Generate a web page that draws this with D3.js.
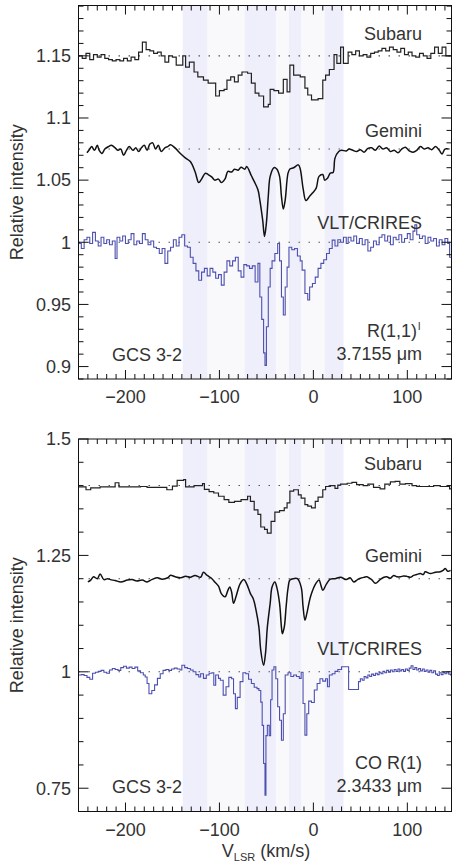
<!DOCTYPE html>
<html><head><meta charset="utf-8">
<script src="https://cdn.jsdelivr.net/npm/d3@7"></script>
<style>
body{margin:0;background:#fff}
svg{display:block}
text{font-family:"Liberation Sans",Arial,Helvetica,sans-serif;fill:#333}
</style>
</head><body>
<svg id="chart" width="454" height="865"></svg>
<script>
// ---------- data ----------
const xDomain = [-250, 147];
const xMajorTicks = [-200, -100, 0, 100];
const xTickLabels = ["\u2212200", "\u2212100", "0", "100"];
const bandWide = [[-139, 32]];
const bandsDark = [[-139, -113], [-73, -40], [-26, -13], [12, 32]];

const topYDomain = [0.89, 1.1905];
const topYMajor = [0.9, 0.95, 1, 1.05, 1.1, 1.15];
const topYLabels = ["0.9", "0.95", "1", "1.05", "1.1", "1.15"];
const topContinua = [1.15, 1.075, 1.0];

const botYDomain = [0.7, 1.5];
const botYMajor = [0.75, 1, 1.25, 1.5];
const botYLabels = ["0.75", "1", "1.25", "1.5"];
const botContinua = [1.4, 1.2, 1.0];

// H3+ R(1,1)l  -- Subaru (binned)
const subaruTop = [[-250,1.150],[-246,1.148],[-242,1.152],[-238,1.147],[-234,1.151],[-230,1.149],[-226,1.151],[-222,1.148],[-218,1.147],[-214,1.146],[-210,1.147],[-206,1.146],[-202,1.148],[-198,1.146],[-194,1.149],[-190,1.147],[-186,1.153],[-182,1.161],[-178,1.155],[-174,1.154],[-170,1.152],[-166,1.153],[-162,1.150],[-158,1.145],[-154,1.150],[-150,1.149],[-146,1.1425],[-139,1.150],[-136,1.141],[-132,1.145],[-127,1.137],[-123,1.133],[-117,1.1305],[-112,1.128],[-104,1.1177],[-100,1.122],[-95,1.123],[-92,1.1305],[-88,1.133],[-84,1.129],[-80,1.1345],[-76,1.137],[-70,1.136],[-66,1.128],[-62,1.120],[-58,1.1177],[-53,1.109],[-48,1.111],[-46,1.123],[-42,1.122],[-37,1.120],[-32,1.131],[-28,1.121],[-25,1.1425],[-21,1.1345],[-14,1.133],[-9,1.124],[-6,1.1185],[-2,1.1145],[5,1.1155],[10,1.1305],[13,1.1345],[17,1.139],[22,1.151],[25,1.144],[29,1.157],[32,1.144],[37,1.153],[41,1.151],[45,1.154],[49,1.150],[53,1.151],[57,1.149],[61,1.152],[65,1.153],[69,1.154],[73,1.156],[77,1.154],[81,1.157],[85,1.155],[89,1.153],[93,1.156],[97,1.151],[101,1.153],[105,1.150],[109,1.149],[113,1.152],[117,1.150],[121,1.148],[125,1.152],[129,1.157],[133,1.152],[137,1.157],[141,1.150],[147,1.150]];

// Gemini
const geminiTop = [[-241,1.072],[-238,1.075],[-236,1.077],[-233,1.074],[-230,1.078],[-228,1.074],[-225,1.0715],[-222,1.075],[-218,1.077],[-215,1.078],[-211,1.076],[-208,1.074],[-205,1.075],[-202,1.070],[-199,1.074],[-196,1.077],[-192,1.074],[-189,1.076],[-186,1.073],[-183,1.076],[-180,1.078],[-177,1.074],[-174,1.079],[-171,1.080],[-168,1.075],[-165,1.078],[-162,1.073],[-158,1.076],[-155,1.077],[-152,1.0785],[-147,1.0757],[-141,1.071],[-136,1.0677],[-131,1.065],[-126,1.057],[-122,1.048],[-119,1.0508],[-115,1.0556],[-112,1.0545],[-108,1.0524],[-105,1.050],[-101,1.0508],[-98,1.048],[-94,1.051],[-91,1.057],[-87,1.0565],[-84,1.0588],[-80,1.058],[-77,1.0604],[-73,1.0588],[-71,1.061],[-66,1.0535],[-63,1.049],[-59,1.0422],[-57,1.034],[-54,1.018],[-52,1.0047],[-50,1.0157],[-48,1.037],[-46,1.053],[-42,1.060],[-39,1.059],[-36,1.053],[-34,1.037],[-32,1.0267],[-30,1.034],[-27,1.0556],[-25,1.059],[-21,1.060],[-16,1.0623],[-14,1.059],[-11,1.0436],[-8,1.0336],[-4,1.037],[-1,1.0396],[3,1.0436],[6,1.053],[10,1.0545],[12,1.050],[15,1.0515],[18,1.0556],[21,1.0562],[23,1.0677],[27,1.073],[30,1.074],[35,1.0735],[38,1.075],[42,1.074],[46,1.073],[50,1.0745],[54,1.0725],[58,1.0755],[62,1.076],[66,1.074],[70,1.0775],[74,1.075],[78,1.076],[82,1.073],[86,1.074],[90,1.072],[94,1.075],[98,1.0765],[102,1.0735],[106,1.0725],[110,1.074],[114,1.077],[118,1.075],[122,1.076],[126,1.0745],[130,1.077],[134,1.074],[137,1.071],[140,1.075],[144,1.075]];

// VLT/CRIRES
const crirestop = [[-250,0.999],[-247,0.995],[-244,1.002],[-241,1.004],[-238,0.999],[-235,1.008],[-232,1.001],[-229,0.997],[-226,1.004],[-223,0.999],[-220,1.002],[-217,0.998],[-214,1.001],[-211,0.987],[-209,1.004],[-206,1.001],[-203,1.005],[-200,0.999],[-197,1.002],[-194,1.007],[-191,0.998],[-188,1.001],[-185,0.999],[-182,1.007],[-179,1.002],[-176,0.998],[-173,1.001],[-170,0.996],[-167,0.995],[-164,0.991],[-161,0.995],[-158,0.983],[-155,0.993],[-152,0.996],[-149,1.002],[-146,0.997],[-143,1.004],[-140,1.006],[-137,0.997],[-134,0.996],[-131,0.988],[-128,0.983],[-125,0.977],[-122,0.9695],[-119,0.976],[-116,0.979],[-113,0.973],[-110,0.979],[-107,0.976],[-104,0.971],[-101,0.974],[-98,0.9655],[-95,0.976],[-92,0.985],[-89,0.981],[-86,0.985],[-83,0.988],[-80,0.977],[-77,0.972],[-74,0.982],[-71,0.981],[-68,0.979],[-65,0.981],[-62,0.968],[-59,0.983],[-57,0.956],[-55,0.938],[-53,0.911],[-51.5,0.901],[-50,0.932],[-48,0.964],[-46,0.979],[-44,0.985],[-41,0.991],[-38,0.999],[-36,0.985],[-34,0.956],[-32,0.9415],[-30,0.964],[-28,0.980],[-26,0.996],[-23,0.994],[-20,0.995],[-17,0.989],[-14,0.985],[-12,0.9776],[-9,0.9588],[-6,0.9535],[-4,0.964],[-1,0.9668],[2,0.972],[5,0.979],[8,0.983],[11,0.986],[14,0.991],[17,0.995],[20,1.0017],[23,0.997],[26,1.002],[29,1.000],[32,1.004],[35,0.999],[37,1.004],[40,1.001],[43,1.005],[46,0.999],[49,1.003],[52,0.998],[55,1.002],[58,0.993],[61,0.996],[64,1.001],[67,0.998],[70,1.004],[73,1.006],[76,1.001],[79,1.005],[82,0.998],[85,1.004],[88,1.002],[91,1.006],[94,1.000],[97,1.003],[100,1.007],[103,1.002],[106,1.009],[108,1.014],[110,1.006],[113,1.003],[116,1.005],[119,0.999],[122,1.004],[125,1.001],[128,1.003],[131,0.997],[134,1.002],[137,0.998],[140,1.003],[143,0.999],[145,0.988],[147,0.988]];

// CO R(1) -- Subaru
const subaruBot = [[-250,1.397],[-242,1.391],[-237,1.395],[-227,1.397],[-211,1.406],[-207,1.397],[-184,1.398],[-177,1.396],[-156,1.391],[-150,1.399],[-145,1.411],[-138,1.413],[-136,1.397],[-127,1.400],[-118,1.404],[-116,1.392],[-111,1.387],[-106,1.384],[-101,1.377],[-95,1.370],[-90,1.364],[-84,1.366],[-77,1.370],[-70,1.377],[-67,1.366],[-63,1.348],[-59,1.338],[-56,1.311],[-52,1.306],[-49,1.298],[-45,1.323],[-41,1.343],[-36,1.346],[-31,1.352],[-28,1.363],[-25,1.388],[-21,1.391],[-16,1.380],[-13,1.373],[-9,1.359],[-6,1.356],[-2,1.352],[2,1.366],[5,1.375],[10,1.391],[13,1.398],[18,1.400],[23,1.394],[26,1.401],[29,1.403],[36,1.405],[41,1.407],[46,1.402],[53,1.400],[58,1.403],[64,1.396],[71,1.393],[76,1.403],[82,1.408],[87,1.409],[92,1.403],[98,1.404],[105,1.400],[110,1.398],[128,1.400],[135,1.398],[145,1.393],[147,1.393]];

const geminiBot = [[-240,1.193],[-237,1.197],[-234,1.204],[-230,1.200],[-227,1.210],[-223,1.198],[-219,1.200],[-216,1.198],[-211,1.196],[-205,1.193],[-198,1.197],[-193,1.198],[-188,1.195],[-182,1.197],[-177,1.193],[-172,1.198],[-166,1.202],[-161,1.199],[-155,1.202],[-152,1.2075],[-147,1.204],[-141,1.202],[-136,1.205],[-131,1.203],[-126,1.207],[-120,1.203],[-117,1.214],[-113,1.207],[-108,1.200],[-105,1.193],[-101,1.184],[-98,1.168],[-94,1.161],[-91,1.175],[-89,1.182],[-87,1.171],[-85,1.147],[-82,1.164],[-78,1.189],[-74,1.198],[-71,1.189],[-67,1.168],[-64,1.157],[-61,1.132],[-58,1.096],[-56,1.046],[-53,1.014],[-51,1.039],[-49,1.096],[-46,1.147],[-44,1.182],[-41,1.193],[-39,1.182],[-36,1.147],[-34,1.096],[-33,1.082],[-31,1.096],[-29,1.140],[-27,1.179],[-25,1.197],[-21,1.200],[-17,1.200],[-13,1.182],[-11,1.140],[-9,1.111],[-7,1.125],[-4,1.154],[-2,1.168],[0,1.179],[3,1.191],[6,1.197],[8,1.186],[10,1.175],[14,1.189],[18,1.199],[23,1.200],[29,1.203],[35,1.198],[39,1.202],[43,1.193],[47,1.198],[50,1.201],[54,1.203],[57,1.204],[62,1.198],[66,1.190],[71,1.198],[75,1.203],[78,1.204],[82,1.201],[85.5,1.207],[89,1.204],[92.6,1.204],[96,1.206],[99.6,1.205],[103,1.203],[106.7,1.207],[110,1.209],[113.8,1.211],[117,1.209],[119,1.215],[124.5,1.211],[129.8,1.214],[135,1.215],[138,1.218],[140.4,1.222],[143,1.216],[146,1.218]];

const crireBot = [[-250,0.993],[-247,0.994],[-244,0.992],[-241,0.988],[-238,0.984],[-235,0.997],[-232,0.999],[-229,1.001],[-226,1.003],[-223,0.999],[-220,0.997],[-217,1.004],[-214,1.007],[-211,1.005],[-208,1.003],[-205,1.009],[-202,1.012],[-199,1.008],[-196,1.010],[-193,1.007],[-190,1.010],[-187,1.002],[-184,0.998],[-181,0.993],[-179,0.989],[-177,0.975],[-175,0.953],[-172,0.960],[-169,0.972],[-166,0.986],[-163,0.996],[-160,1.003],[-157,1.005],[-154,1.003],[-151,1.006],[-148,1.008],[-145,1.006],[-142,1.004],[-140,1.014],[-137,1.009],[-134,1.007],[-131,1.004],[-128,1.000],[-125,0.994],[-122,0.989],[-120,0.996],[-117,0.986],[-114,0.993],[-111,0.997],[-108,0.998],[-106,0.971],[-104,0.993],[-101,0.986],[-99,0.982],[-96,0.950],[-93,0.968],[-90,0.988],[-87,0.985],[-85,0.953],[-83,0.921],[-81,0.945],[-78,0.979],[-75,0.998],[-72,0.996],[-69,0.984],[-66,0.975],[-63,0.967],[-60,0.964],[-58,0.960],[-56,0.935],[-54.5,0.885],[-53,0.803],[-51.5,0.735],[-50.5,0.863],[-49,0.885],[-47,0.863],[-45.5,0.940],[-44,1.004],[-42,1.011],[-40,0.985],[-38,0.925],[-36,0.896],[-34,0.853],[-32,0.910],[-30,0.993],[-27,0.998],[-24,0.990],[-21,0.993],[-18,0.990],[-15,0.986],[-13,0.999],[-11,0.932],[-9,0.864],[-7,0.910],[-5,0.937],[-2,0.934],[1,0.961],[4,0.975],[7,0.985],[10,0.980],[13,0.985],[15,0.968],[17,0.993],[20,0.996],[23,1.001],[26,1.005],[30,1.011],[37.5,0.962],[48,0.979],[50,0.985],[52,0.982],[54,0.990],[56,0.987],[58,0.993],[60,0.990],[62,0.995],[64,0.992],[66,0.997],[68,0.994],[70,0.999],[72,0.996],[74,1.001],[76,0.998],[78,1.003],[80,0.999],[82,1.004],[84,1.000],[86,1.005],[88,1.001],[90,1.006],[92,1.002],[94,1.005],[96,1.001],[98,1.006],[100,1.003],[102,1.008],[104,1.013],[106,1.005],[108,1.009],[110,1.004],[112,1.007],[114,1.002],[116,1.006],[118,1.001],[120,1.004],[122,0.999],[124,1.003],[126,0.998],[128,1.002],[130,0.995],[132,0.992],[134,0.998],[136,0.994],[138,0.999],[140,0.996],[142,1.000],[144,0.995],[146,0.993],[147,0.993]];

// ---------- drawing ----------
const svg = d3.select("#chart");
const W = 454, H = 865;
const x = d3.scaleLinear().domain(xDomain).range([78.5, 451.5]);
const blue = "#4c4fb0";

const panels = [
  {y0: 5.5, y1: 379, dom: topYDomain, major: topYMajor, labels: topYLabels, minorStep: 0.01,
   cont: topContinua, series: [subaruTop, geminiTop, crirestop],
   names: [["Subaru", 40], ["Gemini", 137], ["VLT/CRIRES", 229]],
   line1: "R(1,1)", sup: "l", line2: "3.7155 \u03bcm", l1y: 337, l2y: 360, gcsY: 361, id: "t"},
  {y0: 439, y1: 811.5, dom: botYDomain, major: botYMajor, labels: botYLabels, minorStep: 0.05,
   cont: botContinua, series: [subaruBot, geminiBot, crireBot],
   names: [["Subaru", 470], ["Gemini", 562], ["VLT/CRIRES", 655]],
   line1: "CO R(1)", sup: null, line2: "2.3433 \u03bcm", l1y: 769, l2y: 792, gcsY: 793, id: "b"}
];

panels.forEach(p => {
  const y = d3.scaleLinear().domain(p.dom).range([p.y1, p.y0]);
  const g = svg.append("g");
  const x0 = x.range()[0], x1 = x.range()[1];

  g.append("clipPath").attr("id", "clip" + p.id)
    .append("rect").attr("x", x0).attr("y", p.y0).attr("width", x1 - x0).attr("height", p.y1 - p.y0);

  // shaded bands
  g.selectAll(".bw").data(bandWide).join("rect")
    .attr("x", d => x(d[0])).attr("width", d => x(d[1]) - x(d[0]))
    .attr("y", p.y0).attr("height", p.y1 - p.y0).attr("fill", "#f9f9fc");
  g.selectAll(".bd").data(bandsDark).join("rect")
    .attr("x", d => x(d[0])).attr("width", d => x(d[1]) - x(d[0]))
    .attr("y", p.y0).attr("height", p.y1 - p.y0).attr("fill", "#efeffb");

  // dotted continua
  g.selectAll(".ct").data(p.cont).join("line")
    .attr("x1", x0).attr("x2", x1).attr("y1", d => y(d)).attr("y2", d => y(d))
    .attr("stroke", "#555").attr("stroke-width", 1.1).attr("stroke-dasharray", "1.5,8.5");

  const clip = g.append("g").attr("clip-path", `url(#clip${p.id})`);
  const stepLine = d3.line().x(d => x(d[0])).y(d => y(d[1])).curve(d3.curveStepAfter);
  const smoothLine = d3.line().x(d => x(d[0])).y(d => y(d[1])).curve(d3.curveCatmullRom.alpha(0.5));
  clip.append("path").datum(p.series[0]).attr("d", stepLine)
    .attr("fill", "none").attr("stroke", "#222").attr("stroke-width", 1.2);
  clip.append("path").datum(p.series[1]).attr("d", smoothLine)
    .attr("fill", "none").attr("stroke", "#111").attr("stroke-width", 1.5);
  clip.append("path").datum(p.series[2]).attr("d", stepLine)
    .attr("fill", "none").attr("stroke", blue).attr("stroke-width", 1.1);

  // frame
  g.append("rect").attr("x", x0).attr("y", p.y0).attr("width", x1 - x0).attr("height", p.y1 - p.y0)
    .attr("fill", "none").attr("stroke", "#111").attr("stroke-width", 1);

  // x ticks (inward, top & bottom)
  const xMinor = d3.range(-250, 147.1, 10).filter(v => !xMajorTicks.includes(v));
  const tickG = g.append("g").attr("stroke", "#111").attr("stroke-width", 1);
  xMinor.forEach(v => {
    tickG.append("line").attr("x1", x(v)).attr("x2", x(v)).attr("y1", p.y1).attr("y2", p.y1 - 5);
    tickG.append("line").attr("x1", x(v)).attr("x2", x(v)).attr("y1", p.y0).attr("y2", p.y0 + 5);
  });
  xMajorTicks.forEach(v => {
    tickG.append("line").attr("x1", x(v)).attr("x2", x(v)).attr("y1", p.y1).attr("y2", p.y1 - 9);
    tickG.append("line").attr("x1", x(v)).attr("x2", x(v)).attr("y1", p.y0).attr("y2", p.y0 + 9);
  });
  // y ticks (inward, left & right)
  const yMinor = d3.range(Math.ceil(p.dom[0] / p.minorStep - 1e-6), Math.floor(p.dom[1] / p.minorStep + 1e-6) + 1)
    .map(k => +(k * p.minorStep).toFixed(4))
    .filter(v => !p.major.some(m => Math.abs(m - v) < 1e-6));
  yMinor.forEach(v => {
    tickG.append("line").attr("x1", x0).attr("x2", x0 + 5).attr("y1", y(v)).attr("y2", y(v));
    tickG.append("line").attr("x1", x1).attr("x2", x1 - 5).attr("y1", y(v)).attr("y2", y(v));
  });
  p.major.forEach(v => {
    tickG.append("line").attr("x1", x0).attr("x2", x0 + 10).attr("y1", y(v)).attr("y2", y(v));
    tickG.append("line").attr("x1", x1).attr("x2", x1 - 10).attr("y1", y(v)).attr("y2", y(v));
  });

  // tick labels
  g.selectAll(".yl").data(p.major).join("text")
    .attr("x", 71).attr("y", d => y(d)).attr("dy", "0.35em")
    .attr("text-anchor", "end").attr("font-size", 18).text((d, i) => p.labels[i]);
  g.selectAll(".xl").data(xMajorTicks).join("text")
    .attr("x", d => x(d)).attr("y", p.y1 + 24)
    .attr("text-anchor", "middle").attr("font-size", 18).text((d, i) => xTickLabels[i]);

  // y title
  g.append("text").attr("transform", `translate(23,${(p.y0 + p.y1) / 2}) rotate(-90)`)
    .attr("text-anchor", "middle").attr("font-size", 18).text("Relative intensity");

  // series names
  p.names.forEach(([t, yy]) => {
    g.append("text").attr("x", 422).attr("y", yy).attr("text-anchor", "end").attr("font-size", 18).text(t);
  });
  const t1 = g.append("text").attr("x", p.sup ? 417 : 422).attr("y", p.l1y).attr("text-anchor", "end").attr("font-size", 18).text(p.line1);
  if (p.sup) {
    g.append("text").attr("x", 418).attr("y", p.l1y - 7).attr("text-anchor", "start").attr("font-size", 11).text(p.sup);
  }
  g.append("text").attr("x", 422).attr("y", p.l2y).attr("text-anchor", "end").attr("font-size", 18).text(p.line2);
  g.append("text").attr("x", 112).attr("y", p.gcsY).attr("text-anchor", "start").attr("font-size", 18).text("GCS 3-2");
});

// x axis title
const xt = svg.append("text").attr("x", 266).attr("y", 857).attr("text-anchor", "middle").attr("font-size", 18);
xt.append("tspan").text("V");
xt.append("tspan").attr("font-size", 11).attr("dy", 4).text("LSR");
xt.append("tspan").attr("dy", -4).text(" (km/s)");
</script>
</body></html>
